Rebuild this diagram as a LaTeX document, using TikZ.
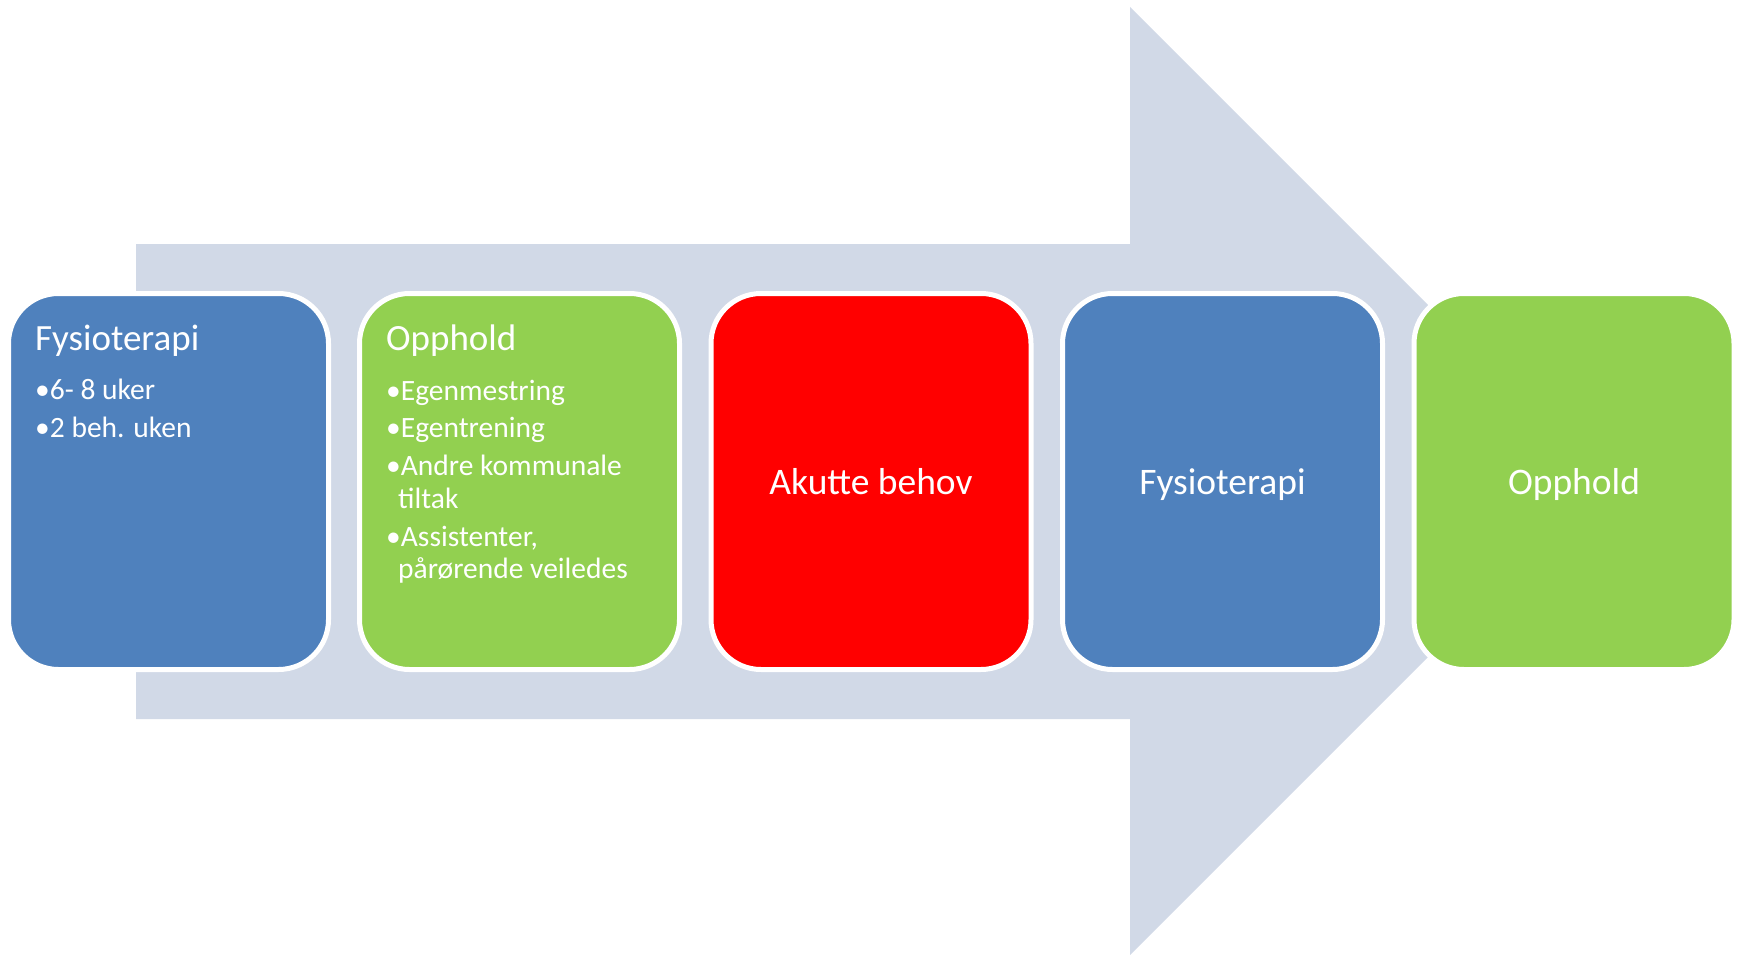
\documentclass[tikz,border=0pt]{standalone}
\usepackage{fontspec}
\setmainfont{Carlito}
\definecolor{arrowgray}{HTML}{D1D9E7}
\definecolor{boxblue}{HTML}{4F81BD}
\definecolor{boxgreen}{HTML}{92D050}
\definecolor{boxred}{HTML}{FF0000}
\tikzset{
  card/.style={rectangle, rounded corners=50pt, draw=white, line width=5pt,
    minimum width=320pt, minimum height=376pt, inner sep=0pt},
  title/.style={anchor=base west, inner sep=0pt, text=white,
    font=\fontsize{37}{40}\selectfont},
  item/.style={anchor=base west, inner sep=0pt, text=white,
    font=\fontsize{29.5}{32}\selectfont},
  center/.style={anchor=base, text=white, inner sep=0pt, font=\fontsize{37.5}{40}\selectfont}
}
\begin{document}
\begin{tikzpicture}[x=1pt,y=-1pt]
\useasboundingbox (0,0) rectangle (1739,955);
% big arrow
\fill[arrowgray] (136,244) -- (1130,244) -- (1130,7) -- (1604,481)
  -- (1130,955) -- (1130,719) -- (136,719) -- cycle;
% boxes
\node[card, fill=boxblue]  (b1) at (168.5,481.5) {};
\node[card, fill=boxgreen] (b2) at (519.5,481.5) {};
\node[card, fill=boxred]   (b3) at (871,481.5) {};
\node[card, fill=boxblue]  (b4) at (1222.5,481.5) {};
\node[card, fill=boxgreen] (b5) at (1574,481.5) {};
% box 1 text
\node[title] (t1) at (35,350) {Fysioterapi};
\node[item] (t1a) at (35,399) {•6- 8 uker};
\node[item] (t1b) at (35,437) {•2 beh. uken};
% box 2 text
\node[title] (t2) at (386,350) {Opphold};
\node[item] (t2a) at (386,400) {•Egenmestring};
\node[item] (t2b) at (386,437) {•Egentrening};
\node[item] (t2c) at (386,475) {•Andre kommunale};
\node[item] (t2d) at (398,508) {tiltak};
\node[item] (t2e) at (386,546) {•Assistenter,};
\node[item] (t2f) at (398,578) {pårørende veiledes};
% centre texts
\node[center] (t3) at (b3.center |- 0,494) {Akutte behov};
\node[center] (t4) at (b4.center |- 0,494) {Fysioterapi};
\node[center] (t5) at (b5.center |- 0,494) {Opphold};
\end{tikzpicture}
\end{document}
